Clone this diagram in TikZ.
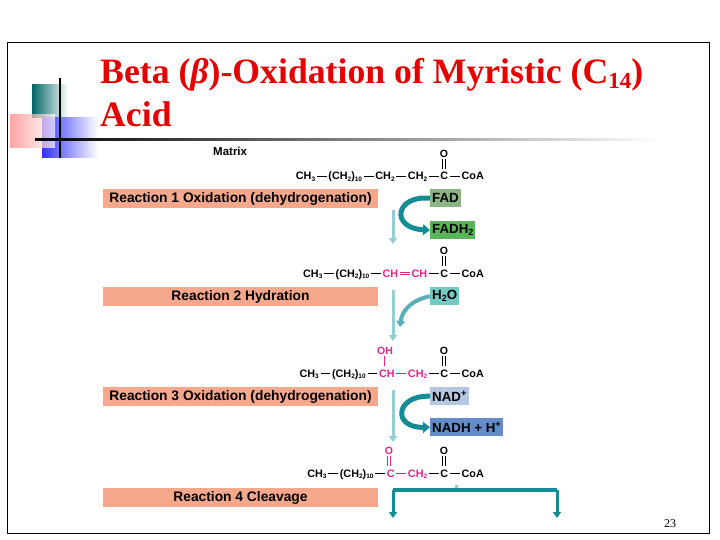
\documentclass[tikz,border=0pt]{standalone}
\usepackage{fontspec}
\setmainfont{Liberation Serif}
\newfontfamily\ar{Liberation Sans}
\usetikzlibrary{arrows.meta}
\definecolor{salm}{RGB}{246,168,140}
\definecolor{tealc}{RGB}{20,140,150}
\definecolor{tealL}{RGB}{150,205,210}
\definecolor{pnk}{RGB}{220,40,140}
\definecolor{fadc}{RGB}{140,180,130}
\definecolor{fadh}{RGB}{90,180,90}
\definecolor{h2o}{RGB}{120,200,195}
\definecolor{nadp}{RGB}{180,200,225}
\definecolor{nadh}{RGB}{100,140,200}
\newcommand{\bd}{\,\rule[0.33em]{0.9em}{0.5pt}\,}
\newcommand{\dbd}{\,\rule[0.22em]{0.9em}{0.5pt}\hspace{-0.9em}\rule[0.44em]{0.9em}{0.5pt}\,}
\newcommand{\sbs}[1]{\raisebox{-0.3ex}{\fontsize{6.5}{6.5}\selectfont #1}}
\newcommand{\sbb}[1]{\raisebox{-0.3ex}{\fontsize{9}{9}\selectfont #1}}
\tikzset{
 lab/.style={fill=salm,minimum width=275pt,minimum height=19pt,inner sep=0pt,font=\ar\bfseries\fontsize{13.8}{13.8}\selectfont},
 mol/.style={anchor=base east,inner sep=0pt,font=\ar\bfseries\fontsize{10.8}{10.8}\selectfont},
 cof/.style={anchor=north west,inner sep=2pt,minimum height=18pt,font=\ar\bfseries\fontsize{13.3}{13.3}\selectfont},
 oo/.style={inner sep=0pt,font=\ar\bfseries\fontsize{10.5}{10.5}\selectfont},
 down/.style={tealL,line width=3pt,-{Triangle[length=6pt,width=8pt]}},
 curv/.style={tealc,line width=5pt,-{Triangle[length=7pt,width=11pt]}},
}
\begin{document}
\begin{tikzpicture}[x=1pt,y=-1pt]
\useasboundingbox (0,0) rectangle (720,540);
\fill[white] (0,0) rectangle (720,540);
\draw[line width=0.8pt] (7,42) rectangle (709,533);
% decoration
\shade[left color=teal!80!black,right color=white] (32,85) rectangle (68,118);
\shade[left color=blue!80,right color=white] (42,118) rectangle (98,158);
\shade[left color=red!50,right color=white,opacity=0.7] (10,115) rectangle (55,148);
\draw[line width=1.5pt] (60,78) -- (60,158);
\shade[left color=black,right color=white] (35,139) rectangle (660,141);
\node[anchor=base west,inner sep=0pt,text=red!90!black,font=\bfseries\fontsize{35.7}{35.7}\selectfont] (t1) at (100,84) {Beta (\textit{β})-Oxidation of Myristic (C\raisebox{-0.3ex}{\fontsize{23}{23}\selectfont 14})};
\node[anchor=base west,inner sep=0pt,text=red!90!black,font=\bfseries\fontsize{35.7}{35.7}\selectfont] (t2) at (100,127) {Acid};
\node[anchor=base west,inner sep=0pt,font=\ar\bfseries\fontsize{11.5}{11.5}\selectfont] (mx) at (213,156) {Matrix};
% labels
\node[lab] (r1) at (240.5,198.5) {Reaction 1 Oxidation (dehydrogenation)};
\node[lab] (r2) at (240.5,296.5) {Reaction 2 Hydration};
\node[lab] (r3) at (240.5,396.5) {Reaction 3 Oxidation (dehydrogenation)};
\node[lab] (r4) at (240.5,497.5) {Reaction 4 Cleavage};
% molecules
\node[mol] (m1) at (484,180) {CH\sbs3\bd(CH\sbs2)\sbs{10}\bd CH\sbs2\bd CH\sbs2\bd C\bd CoA};
\node[oo] (o1) at (444,154) {O}; \draw[line width=0.5pt] (442.7,159)--(442.7,169) (445.3,159)--(445.3,169);
\node[mol] (m2) at (484,277) {CH\sbs3\bd(CH\sbs2)\sbs{10}\bd\textcolor{pnk}{CH\dbd CH}\bd C\bd CoA};
\node[oo] (o2) at (444,251) {O}; \draw[line width=0.5pt] (442.7,256)--(442.7,266) (445.3,256)--(445.3,266);
\node[mol] (m3) at (484,377) {CH\sbs3\bd(CH\sbs2)\sbs{10}\bd\textcolor{pnk}{CH\bd CH\sbs2}\bd C\bd CoA};
\node[oo] (o3) at (444,351) {O}; \draw[line width=0.5pt] (442.7,356)--(442.7,366) (445.3,356)--(445.3,366);
\node[oo,text=pnk] (oh) at (385,351) {OH}; \draw[pnk,line width=0.5pt] (384,356)--(384,366);
\node[mol] (m4) at (484,477) {CH\sbs3\bd(CH\sbs2)\sbs{10}\bd\textcolor{pnk}{C\bd CH\sbs2}\bd C\bd CoA};
\node[oo] (o4) at (444,451) {O}; \draw[line width=0.5pt] (442.7,456)--(442.7,466) (445.3,456)--(445.3,466);
\node[oo,text=pnk] (o5) at (389,451) {O}; \draw[pnk,line width=0.5pt] (387.7,456)--(387.7,466) (390.3,456)--(390.3,466);
% cofactors
\node[cof,fill=fadc] (fad) at (430,189) {FAD};
\node[cof,fill=fadh] (fadh) at (430,221) {FADH\sbb2};
\node[cof,fill=h2o] (h) at (430,287) {H\sbb2O};
\node[cof,fill=nadp] (nad) at (430,387) {NAD\textsuperscript{+}};
\node[cof,fill=nadh] (nadh) at (430,418) {NADH + H\textsuperscript{+}};
% arrows
\coordinate (a1s) at (393,210); \coordinate (a1e) at (393,244);
\draw[down] (a1s) -- (a1e);
\draw[curv] (fad.west) .. controls (395,195) and (390,228) .. (fadh.west);
\coordinate (a2s) at (393,290); \coordinate (a2e) at (393,341);
\draw[down] (a2s) -- (a2e);
\draw[tealc!70,line width=4pt,-{Triangle[length=6pt,width=9pt]}] (h.west) .. controls (412,300) and (402,310) .. (400,327);
\coordinate (a3s) at (393,390); \coordinate (a3e) at (393,442);
\draw[down] (a3s) -- (a3e);
\draw[curv] (nad.west) .. controls (395,395) and (392,428) .. (nadh.west);
% cleavage
\coordinate (c0) at (456,485); \coordinate (cl) at (393,490); \coordinate (cr) at (557,490);
\coordinate (dl) at (393,518); \coordinate (dr) at (557,518);
\draw[tealL,line width=3pt] (c0) -- (456,490);
\draw[tealc,line width=4pt] (cl) -- (cr);
\draw[tealc,line width=3pt,-{Triangle[length=6pt,width=8pt]}] (cl) -- (dl);
\draw[tealc,line width=3pt,-{Triangle[length=6pt,width=8pt]}] (cr) -- (dr);
\node[anchor=base,font=\fontsize{12}{12}\selectfont] (pg) at (670,527) {23};
\end{tikzpicture}
\end{document}
